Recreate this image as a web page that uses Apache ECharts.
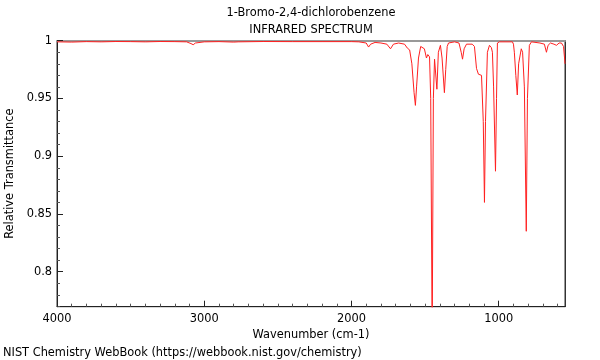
<!DOCTYPE html>
<html><head><meta charset="utf-8">
<script src="https://cdn.jsdelivr.net/npm/echarts@6/dist/echarts.min.js"></script>
<style>html,body{margin:0;padding:0;background:#fff}#c{width:600px;height:360px}</style>
</head><body><div id="c"></div>
<script>
const titleLines = ["1-Bromo-2,4-dichlorobenzene", "INFRARED SPECTRUM"];
const footer = "NIST Chemistry WebBook (https://webbook.nist.gov/chemistry)";
const xMajorTicks = [4000, 3000, 2000, 1000];
const xMinorTicks = [3900,3800,3700,3600,3500,3400,3300,3200,3100,2900,2800,2700,2600,2500,2400,2300,2200,2100,1900,1800,1700,1600,1500,1400,1300,1200,1100,900,800,700,600];
const yMajorTicks = [0.8, 0.85, 0.9, 0.95, 1];
const yMinorTicks = [0.77,0.78,0.79,0.81,0.82,0.83,0.84,0.86,0.87,0.88,0.89,0.91,0.92,0.93,0.94,0.96,0.97,0.98,0.99];
const wavenumbers = [4000,3900,3800,3700,3600,3500,3400,3300,3200,3120,3090,3075,3060,3000,2900,2800,2790,2770,2600,2400,2200,2000,1950,1900,1884,1870,1840,1800,1760,1735,1715,1680,1640,1620,1605,1590,1575,1566,1558,1545,1530,1518,1505,1491,1482,1470,1462,1452,1444,1436,1430,1420,1410,1396,1385,1369,1360,1350,1341,1300,1270,1255,1246,1235,1219,1180,1165,1151,1138,1125,1117,1105,1097,1090,1077,1063,1050,1043,1035,1022,1015,1009,995,907,900,894,884,874,865,847,838,826,813,805,792,778,720,690,676,665,649,625,608,590,574,560,553,550];
const transmittance = [0.999,0.9988,0.9992,0.999,0.9993,0.9992,0.999,0.9993,0.9992,0.999,0.9975,0.9965,0.998,0.999,0.9992,0.9988,0.998,0.999,0.9993,0.9992,0.9992,0.9992,0.999,0.998,0.9945,0.997,0.9985,0.998,0.997,0.993,0.997,0.998,0.997,0.9935,0.992,0.98,0.955,0.944,0.96,0.985,0.995,0.996,0.993,0.985,0.988,0.986,0.95,0.74,0.95,0.984,0.985,0.958,0.99,0.996,0.985,0.955,0.975,0.995,0.998,0.999,0.998,0.99,0.984,0.993,0.997,0.997,0.995,0.976,0.971,0.972,0.97,0.93,0.86,0.93,0.99,0.996,0.994,0.99,0.96,0.887,0.95,0.998,0.999,0.999,0.997,0.99,0.97,0.953,0.98,0.993,0.99,0.96,0.835,0.95,0.996,0.999,0.998,0.997,0.99,0.996,0.998,0.997,0.996,0.998,0.998,0.995,0.985,0.98];

const X_MIN = 550, X_MAX = 4000, Y_MIN = 0.7697, Y_MAX = 1.0;
const FONT = 'DejaVu Sans';
const FS = 11.4;
const data = wavenumbers.map((w, i) => [w, transmittance[i]]);

const baseX = {type:'value', min:X_MIN, max:X_MAX, inverse:true, splitLine:{show:false}};
const baseY = {type:'value', min:Y_MIN, max:Y_MAX, splitLine:{show:false}};

const chart = echarts.init(document.getElementById('c'), null, {renderer:'canvas'});
chart.setOption({
  animation:false,
  grid:{left:57, right:35, top:40.7, bottom:53.3, show:true, borderColor:'#333', borderWidth:1, containLabel:false, outerBoundsMode:'none'},
  graphic:[
    {type:'text', style:{text:titleLines[0], x:311, y:13, align:'center', verticalAlign:'middle', font:FS+'px "'+FONT+'"', fill:'#000'}},
    {type:'text', style:{text:titleLines[1], x:311, y:30, align:'center', verticalAlign:'middle', font:FS+'px "'+FONT+'"', fill:'#000'}},
    {type:'text', style:{text:footer, x:3, y:353, align:'left', verticalAlign:'middle', font:FS+'px "'+FONT+'"', fill:'#000'}}
  ],
  xAxis:[
    Object.assign({}, baseX, {position:'bottom',
      axisLine:{show:true, onZero:false, lineStyle:{color:'#222', width:1}},
      axisTick:{show:true, inside:true, length:6, customValues:xMajorTicks, lineStyle:{color:'#222'}},
      axisLabel:{show:true, customValues:xMajorTicks, margin:7, fontFamily:FONT, fontSize:FS, color:'#000',
        formatter:v => String(v)},
      name:'Wavenumber (cm-1)', nameLocation:'middle', nameGap:20,
      nameTextStyle:{fontFamily:FONT, fontSize:FS, color:'#000', verticalAlign:'top'}}),
    Object.assign({}, baseX, {position:'bottom',
      axisLine:{show:false, onZero:false},
      axisTick:{show:true, inside:true, length:3, customValues:xMinorTicks, lineStyle:{color:'#555'}},
      axisLabel:{show:false}}),
    Object.assign({}, baseX, {position:'top',
      axisLine:{show:true, onZero:false, lineStyle:{color:'#999', width:2}},
      axisTick:{show:false}, axisLabel:{show:false}})
  ],
  yAxis:[
    Object.assign({}, baseY, {position:'left',
      axisLine:{show:true, onZero:false, lineStyle:{color:'#222', width:1}},
      axisTick:{show:true, inside:true, length:6, customValues:yMajorTicks, lineStyle:{color:'#222'}},
      axisLabel:{show:true, customValues:yMajorTicks, margin:5, fontFamily:FONT, fontSize:FS, color:'#000',
        formatter:v => String(+v.toFixed(2))},
      name:'Relative Transmittance', nameLocation:'middle', nameGap:41,
      nameTextStyle:{fontFamily:FONT, fontSize:FS, color:'#000'}}),
    Object.assign({}, baseY, {position:'left',
      axisLine:{show:false, onZero:false},
      axisTick:{show:true, inside:true, length:3, customValues:yMinorTicks, lineStyle:{color:'#555'}},
      axisLabel:{show:false}}),
    Object.assign({}, baseY, {position:'right',
      axisLine:{show:true, onZero:false, lineStyle:{color:'#333', width:1}},
      axisTick:{show:false}, axisLabel:{show:false}})
  ],
  series:[{
    type:'line', xAxisIndex:0, yAxisIndex:0, data:data, showSymbol:false, symbol:'none',
    lineStyle:{color:'#ff2020', width:1}, clip:true, silent:true
  }]
});
</script></body></html>
